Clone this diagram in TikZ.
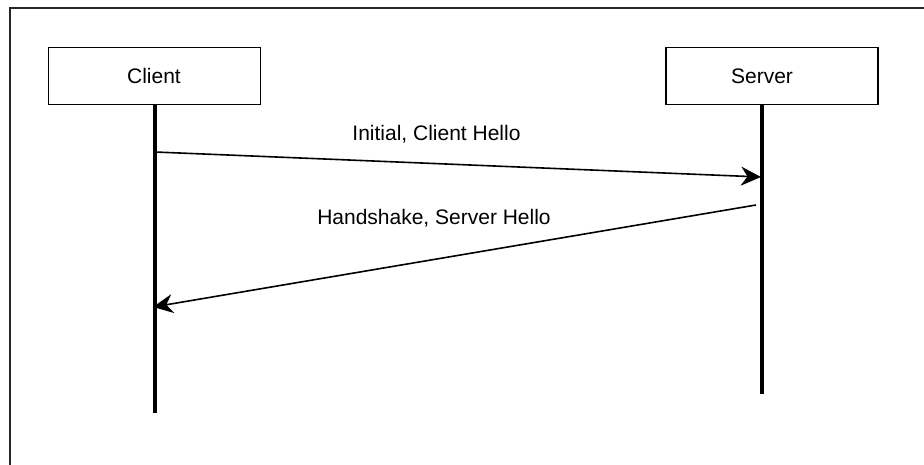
\documentclass[tikz,border=0pt]{standalone}
\usepackage{fontspec}
\setmainfont{Liberation Sans}
\usetikzlibrary{arrows.meta}
\begin{document}
\begin{tikzpicture}[x=1pt,y=-1pt,
  actor/.style={draw=black,line width=1.8pt,fill=white,minimum width=212pt,minimum height=57pt,inner sep=0pt},
  lbl/.style={font=\fontsize{21}{25}\selectfont,inner sep=0pt,anchor=center},
  lifeline/.style={line width=3.8pt,black},
  msg/.style={line width=1.6pt,-{Stealth[length=20pt,width=19pt,inset=6.5pt]}},
  frame/.style={line width=1.6pt,draw=black!85}]
\useasboundingbox (0,0) rectangle (924,465);
\coordinate (fa) at (10,470);
\coordinate (fb) at (10,8);
\coordinate (fc) at (930,8);
\draw[frame] (fa) -- (fb) -- (fc);
% lifelines
\coordinate (cl0) at (155,105);
\coordinate (cl1) at (155,413);
\coordinate (sl0) at (762,105);
\coordinate (sl1) at (762,394);
\draw[lifeline] (cl0) -- (cl1);
\draw[lifeline] (sl0) -- (sl1);
% actors
\node[actor] (client) at (154.5,76) {};
\node[lbl] (clienttxt) at (154,76) {Client};
\node[actor] (server) at (772,76) {};
\node[lbl] (servertxt) at (762,76) {Server};
% messages
\coordinate (m1a) at (155,152);
\coordinate (m1b) at (761,177);
\coordinate (m2a) at (756,205);
\coordinate (m2b) at (153,307);
\draw[msg] (m1a) -- (m1b);
\draw[msg] (m2a) -- (m2b);
\node[lbl] (m1lbl) at (436.5,134) {Initial, Client Hello};
\node[lbl] (m2lbl) at (434,218.5) {Handshake, Server Hello};
\end{tikzpicture}
\end{document}
